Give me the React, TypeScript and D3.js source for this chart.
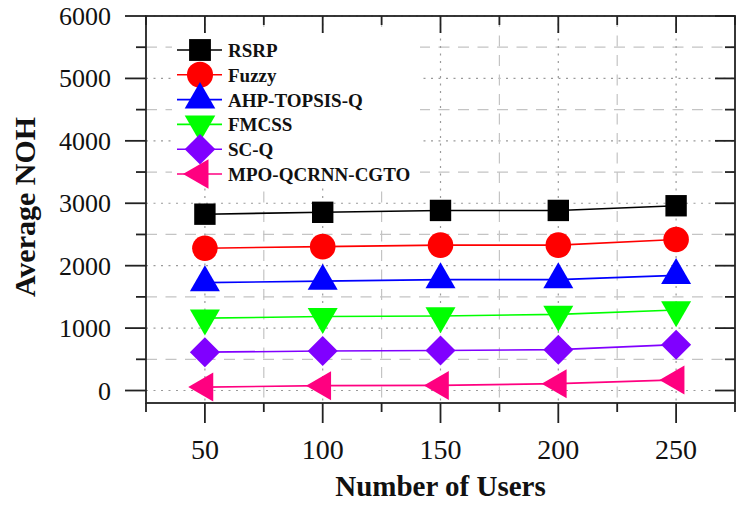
import React from 'react';
import * as d3 from 'd3';

// Number of users on the x axis
const users = [50, 100, 150, 200, 250];

// Average number of handovers per scheme
const rsrp = [2825, 2855, 2885, 2885, 2960];
const fuzzy = [2280, 2305, 2330, 2330, 2420];
const ahpTopsisQ = [1728, 1753, 1776, 1776, 1845];
const fmcss = [1160, 1185, 1195, 1220, 1290];
const scQ = [615, 632, 640, 655, 735];
const mpoQcrnnCgto = [55, 78, 82, 110, 170];

const seriesNames = ['RSRP', 'Fuzzy', 'AHP-TOPSIS-Q', 'FMCSS', 'SC-Q', 'MPO-QCRNN-CGTO'];
const seriesValues = [rsrp, fuzzy, ahpTopsisQ, fmcss, scQ, mpoQcrnnCgto];
const seriesColors = ['#000000', '#ff0000', '#0000ff', '#00ff00', '#8000ff', '#ff0080'];
const seriesShapes = ['square', 'circle', 'triangleUp', 'triangleDown', 'diamond', 'triangleLeft'];

const xMajorTicks = [50, 100, 150, 200, 250];
const xMinorTicks = [25, 75, 125, 175, 225, 275];
const yMajorTicks = [0, 1000, 2000, 3000, 4000, 5000, 6000];
const yMinorTicks = [500, 1500, 2500, 3500, 4500, 5500];

const W = 741;
const H = 506;
const plot = { left: 146, right: 735, top: 16, bottom: 403 };

const x = d3.scaleLinear().domain([25, 275]).range([plot.left, plot.right]);
const y = d3.scaleLinear().domain([-200, 6000]).range([plot.bottom, plot.top]);

const serif = '"Liberation Serif", "Times New Roman", serif';
const axisColor = '#222';

function markerPath(shape: string, k = 1): string {
  const p = d3.path();
  if (shape === 'square') {
    const h = 10.7 * k;
    p.rect(-h, -h, 2 * h, 2 * h);
  } else if (shape === 'circle') {
    p.arc(0, 0, 12.8 * k, 0, Math.PI * 2);
  } else if (shape === 'triangleUp' || shape === 'triangleDown') {
    const hw = 15 * k;
    const ht = 26 * k;
    const s = shape === 'triangleUp' ? 1 : -1;
    p.moveTo(0, (-2 * ht / 3) * s);
    p.lineTo(hw, (ht / 3) * s);
    p.lineTo(-hw, (ht / 3) * s);
    p.closePath();
  } else if (shape === 'diamond') {
    const h = 15 * k;
    p.moveTo(0, -h);
    p.lineTo(h, 0);
    p.lineTo(0, h);
    p.lineTo(-h, 0);
    p.closePath();
  } else if (shape === 'triangleLeft') {
    const hh = 14.5 * k;
    const d = 25 * k;
    p.moveTo(-2 * d / 3, 0);
    p.lineTo(d / 3, -hh);
    p.lineTo(d / 3, hh);
    p.closePath();
  }
  return p.toString();
}

export default function App() {
  const line = d3
    .line<number>()
    .x((_, i) => x(users[i]))
    .y((v) => y(v));

  const legendTop = 50;
  const legendStep = 24.8;

  return (
    <svg
      width={W}
      height={H}
      viewBox={`0 0 ${W} ${H}`}
      style={{ position: 'absolute', left: 0, top: 0, background: '#fff' }}
    >
      {/* grid */}
      <g>
        {yMajorTicks.map((t) => (
          <line key={'gy' + t} x1={plot.left} x2={plot.right} y1={y(t)} y2={y(t)}
            stroke="#9a9a9a" strokeWidth={1.2} strokeDasharray="2,5.5" />
        ))}
        {yMinorTicks.map((t) => (
          <line key={'gym' + t} x1={plot.left} x2={plot.right} y1={y(t)} y2={y(t)}
            stroke="#c4c4c4" strokeWidth={1.2} strokeDasharray="11,8.5" />
        ))}
        {xMajorTicks.map((t) => (
          <line key={'gx' + t} x1={x(t)} x2={x(t)} y1={plot.top} y2={plot.bottom}
            stroke="#9a9a9a" strokeWidth={1.2} strokeDasharray="2,5.5" />
        ))}
        {xMinorTicks.slice(1, -1).map((t) => (
          <line key={'gxm' + t} x1={x(t)} x2={x(t)} y1={plot.top} y2={plot.bottom}
            stroke="#c4c4c4" strokeWidth={1.2} strokeDasharray="11,8.5" />
        ))}
      </g>

      {/* legend background */}
      <rect x={172} y={33} width={248} height={155} fill="#fff" />

      {/* frame and ticks */}
      <g stroke={axisColor} strokeWidth={1.8} fill="none">
        <rect x={plot.left} y={plot.top} width={plot.right - plot.left} height={plot.bottom - plot.top} />
        {yMajorTicks.map((t) => (
          <g key={'ty' + t}>
            <line x1={plot.left - 21} x2={plot.left} y1={y(t)} y2={y(t)} />
            <line x1={plot.right - 20} x2={plot.right} y1={y(t)} y2={y(t)} />
          </g>
        ))}
        {yMinorTicks.map((t) => (
          <g key={'tym' + t}>
            <line x1={plot.left - 10} x2={plot.left} y1={y(t)} y2={y(t)} />
            <line x1={plot.right - 10} x2={plot.right} y1={y(t)} y2={y(t)} />
          </g>
        ))}
        {xMajorTicks.map((t) => (
          <g key={'tx' + t}>
            <line x1={x(t)} x2={x(t)} y1={plot.bottom} y2={plot.bottom + 20} />
            <line x1={x(t)} x2={x(t)} y1={plot.top} y2={plot.top + 17} />
          </g>
        ))}
        {xMinorTicks.map((t) => (
          <g key={'txm' + t}>
            <line x1={x(t)} x2={x(t)} y1={plot.bottom} y2={plot.bottom + 9} />
            <line x1={x(t)} x2={x(t)} y1={plot.top} y2={plot.top + 9} />
          </g>
        ))}
      </g>

      {/* tick labels */}
      <g fontFamily={serif} fill="#111">
        {yMajorTicks.map((t) => (
          <text key={'ly' + t} x={111} y={y(t) + 9} fontSize={26} textAnchor="end">
            {t}
          </text>
        ))}
        {xMajorTicks.map((t) => (
          <text key={'lx' + t} x={x(t)} y={459} fontSize={28} textAnchor="middle">
            {t}
          </text>
        ))}
      </g>

      {/* axis titles */}
      <text x={(plot.left + plot.right) / 2} y={496} fontFamily={serif} fontWeight="bold"
        fontSize={29} textAnchor="middle" fill="#111">
        Number of Users
      </text>
      <text transform="translate(35,207) rotate(-90)" fontFamily={serif} fontWeight="bold"
        fontSize={30} textAnchor="middle" fill="#111">
        Average NOH
      </text>

      {/* series */}
      {seriesValues.map((vals, si) => (
        <g key={'s' + si}>
          <path d={line(vals) || ''} fill="none" stroke={seriesColors[si]} strokeWidth={1.6} />
          {vals.map((v, i) => (
            <path key={i} d={markerPath(seriesShapes[si])}
              transform={`translate(${x(users[i])},${y(v)})`} fill={seriesColors[si]} />
          ))}
        </g>
      ))}

      {/* legend */}
      {seriesNames.map((name, si) => {
        const cy = legendTop + si * legendStep;
        return (
          <g key={'lg' + si}>
            <line x1={177} x2={222} y1={cy} y2={cy} stroke={seriesColors[si]} strokeWidth={1.6} />
            <path d={markerPath(seriesShapes[si], 1.02)} transform={`translate(200,${cy})`}
              fill={seriesColors[si]} />
            <text x={228} y={cy + 7} fontFamily={serif} fontWeight="bold" fontSize={19} fill="#111">
              {name}
            </text>
          </g>
        );
      })}
    </svg>
  );
}
